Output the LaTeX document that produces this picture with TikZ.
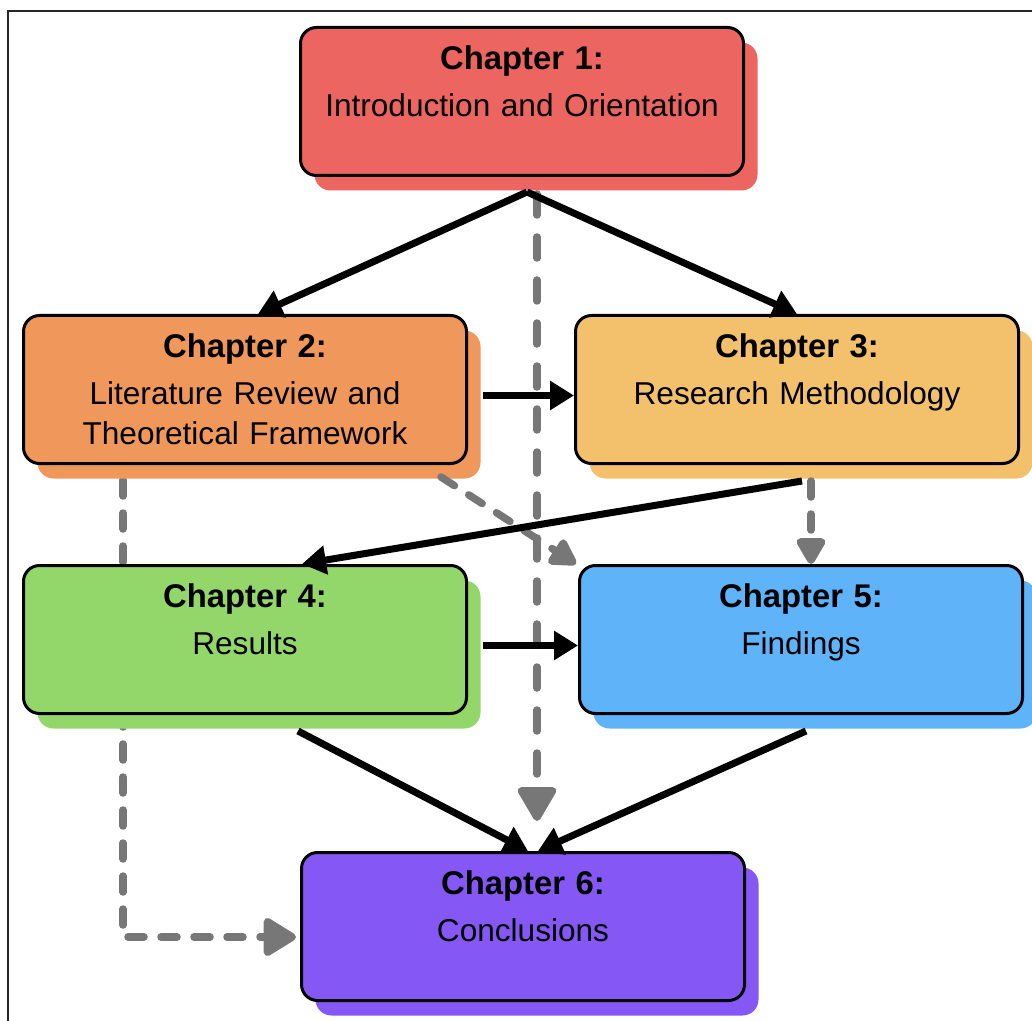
\documentclass[tikz,border=0pt]{standalone}
\usepackage{fontspec}
\setmainfont{Liberation Sans}
\usetikzlibrary{positioning,arrows.meta,shadows,backgrounds,calc}
\definecolor{chone}{HTML}{EC6560}
\definecolor{chtwo}{HTML}{F0975B}
\definecolor{chthree}{HTML}{F3C06B}
\definecolor{chfour}{HTML}{93D76B}
\definecolor{chfive}{HTML}{5FB3F9}
\definecolor{chsix}{HTML}{8557F5}
\definecolor{linkgray}{HTML}{777777}
\newcommand{\bodyfont}{\fontsize{15.8}{20}\selectfont}
\newcommand{\chead}[1]{{\fontsize{16.4}{20}\selectfont\bfseries #1}}
\tikzset{
    chap/.style={rectangle,draw=black,line width=1.5pt,fill=#1,rounded corners=8pt,
        minimum width=221.5pt,minimum height=74pt,inner sep=3pt,text width=214pt,align=center,
        text height=12pt,text depth=44.2pt,font=\bodyfont,
        drop shadow={shadow xshift=7pt,shadow yshift=-7.5pt,fill=#1,opacity=1}},
    flow/.style={-{Triangle[length=12pt,width=14pt]},line width=3.5pt,black},
    lnk/.style={-{Triangle[length=15pt,width=16pt,round]},line width=3.75pt,linkgray,
        line cap=round,dash pattern=on 8pt off 8.5pt},
    lnkbig/.style={lnk,-{Triangle[length=19pt,width=21pt,round]},dash pattern=on 10.5pt off 11pt},
}

\begin{document}
\begin{tikzpicture}[x=0.5pt,y=-0.5pt]
\useasboundingbox (0,0) rectangle (1032,1021);
\draw[black!85,line width=1pt] (8,11.5) rectangle (1044,1034);

\node[chap=chone] (ch1) at (522,101.5) {\chead{Chapter 1:}\\[3.5pt]Introduction and Orientation};
\node[chap=chtwo,below=68.5pt of ch1,xshift=-138.5pt] (ch2) {\chead{Chapter 2:}\\[3.5pt]Literature Review and\\Theoretical Framework};
\node[chap=chthree,right=53pt of ch2] (ch3) {\chead{Chapter 3:}\\[3.5pt]Research Methodology};
\node[chap=chfour,below=49.5pt of ch2] (ch4) {\chead{Chapter 4:}\\[3.5pt]Results};
\node[chap=chfive,right=55pt of ch4] (ch5) {\chead{Chapter 5:}\\[3.5pt]Findings};
\coordinate (mid45) at ($(ch4.south)!.5!(ch5.south)$);
\node[chap=chsix,below=68pt of mid45] (ch6) {\chead{Chapter 6:}\\[3.5pt]Conclusions};

\coordinate (c1out) at ([xshift=2.5pt,yshift=-7.5pt]ch1.south);
\coordinate (c1dsh) at ([xshift=7.5pt,yshift=-8.5pt]ch1.south);
\coordinate (c2dsh) at ([xshift=50.5pt,yshift=-7.5pt]ch2.south west);
\coordinate (c3dsh) at ([xshift=7pt,yshift=-8pt]ch3.south);

% dashed links, the long one runs behind chapter 4
\begin{scope}[on background layer]
\draw[lnk,-{Triangle[length=18pt,width=21pt,round]}] (c2dsh) |- ([xshift=-2pt,yshift=-5.25pt]ch6.west);
\end{scope}
\draw[lnkbig,shorten >=15pt] (c1dsh) -- (c1dsh |- ch6.north);
\draw[lnk] ([xshift=-13.5pt,yshift=-6pt]ch2.south east) -- ([xshift=-1pt]ch5.north west);
\draw[lnk] (c3dsh) -- (c3dsh |- ch5.north);

% main flow
\draw[flow] (c1out) -- ([xshift=6.5pt]ch2.north);
\draw[flow] (c1out) -- (ch3.north);
\draw[flow] ([xshift=7.5pt,yshift=-3pt]ch2.east) -- ([yshift=-3pt]ch3.west);
\draw[flow] ([xshift=2.5pt,yshift=-8pt]ch3.south) -- ([xshift=28.5pt]ch4.north);
\draw[flow] ([xshift=7.5pt,yshift=-3pt]ch4.east) -- ([yshift=-3pt]ch5.west);
\draw[flow] ([xshift=26.5pt,yshift=-8pt]ch4.south) -- ([xshift=2.5pt]ch6.north);
\draw[flow] ([xshift=2.5pt,yshift=-8pt]ch5.south) -- ([xshift=7.5pt]ch6.north);
\end{tikzpicture}
\end{document}
